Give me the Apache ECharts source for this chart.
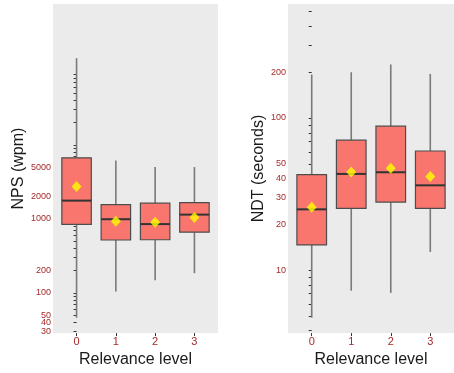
<!DOCTYPE html>
<html>
<head>
<meta charset="utf-8">
<script src="https://cdn.jsdelivr.net/npm/echarts@6/dist/echarts.min.js"></script>
<style>html,body{margin:0;padding:0;background:#fff;}#c{width:454px;height:373px;}</style>
</head>
<body>
<div id="c"></div>
<script>
// ---- data ----
const categories = [0, 1, 2, 3];

const npsMin    = [46, 104, 148, 184];
const npsQ1     = [840, 517, 521, 659];
const npsMedian = [1763, 988, 849, 1140];
const npsQ3     = [6680, 1560, 1627, 1656];
const npsMax    = [148600, 6125, 5010, 5010];
const npsMean   = [2735, 930, 902, 1040];

const ndtMin    = [4.86, 7.32, 7.08, 13.15];
const ndtQ1     = [14.65, 25.5, 28.0, 25.5];
const ndtMedian = [25.1, 42.9, 44.0, 36.1];
const ndtQ3     = [42.5, 71.5, 88.4, 60.7];
const ndtMax    = [193, 200, 225, 195];
const ndtMean   = [25.9, 44.2, 46.7, 41.2];

const npsTicks  = [30,40,50,60,70,80,90,100,200,300,400,500,600,700,800,900,1000,2000,3000,4000,5000,6000,7000,8000,9000,10000,20000,30000,40000,50000,60000,70000,80000,90000];
const npsLabels = [30,40,50,100,200,1000,2000,5000];
const ndtTicks  = [4,5,6,7,8,9,10,20,30,40,50,60,70,80,90,100,200,300,400,500];
const ndtLabels = [10,20,30,40,50,100,200];

const xLabel = 'Relevance level';
const npsTitle = 'NPS (wpm)';
const ndtTitle = 'NDT (seconds)';

// ---- helpers ----
const L = v => Math.log10(v);
function boxData(mn, q1, md, q3, mx) {
  return categories.map((c, i) => [c, L(mn[i]), L(q1[i]), L(md[i]), L(q3[i]), L(mx[i])]);
}
function meanData(m) { return categories.map((c, i) => [c, L(m[i])]); }

const FONT = 'Liberation Sans, Helvetica, Arial, sans-serif';
const LABEL_COLOR = '#A52A2A';

function renderBox(params, api) {
  const x = api.value(0);
  const pMin = api.coord([x, api.value(1)]);
  const pQ1 = api.coord([x, api.value(2)]);
  const pMd = api.coord([x, api.value(3)]);
  const pQ3 = api.coord([x, api.value(4)]);
  const pMax = api.coord([x, api.value(5)]);
  const w = api.size([0.75, 0])[0];
  const cx = pQ1[0];
  return {
    type: 'group',
    children: [
      { type: 'line', shape: { x1: cx, y1: pQ3[1], x2: cx, y2: pMax[1] },
        style: { stroke: '#7a7a7a', lineWidth: 1.6 } },
      { type: 'line', shape: { x1: cx, y1: pQ1[1], x2: cx, y2: pMin[1] },
        style: { stroke: '#7a7a7a', lineWidth: 1.6 } },
      { type: 'rect', shape: { x: cx - w / 2, y: pQ3[1], width: w, height: pQ1[1] - pQ3[1] },
        style: { fill: '#F8766D', stroke: '#4d4d4d', lineWidth: 1.2 } },
      { type: 'line', shape: { x1: cx - w / 2, y1: pMd[1], x2: cx + w / 2, y2: pMd[1] },
        style: { stroke: '#333333', lineWidth: 2 } }
    ]
  };
}

function xAxisDef(gridIndex) {
  return {
    type: 'value', gridIndex, min: -0.6, max: 3.6,
    axisLine: { show: false },
    splitLine: { show: false },
    axisTick: { show: true, length: 3, customValues: categories, lineStyle: { color: '#333', width: 1 } },
    axisLabel: { customValues: categories, color: LABEL_COLOR, fontSize: 11, margin: 3, fontFamily: FONT },
    name: xLabel, nameLocation: 'middle', nameGap: 10,
    nameTextStyle: { fontSize: 16, color: '#1a1a1a', fontFamily: FONT }
  };
}
function yAxisDef(gridIndex, mn, mx, ticks, labels, title, gap) {
  return {
    type: 'value', gridIndex, min: L(mn), max: L(mx),
    axisLine: { show: false },
    splitLine: { show: false },
    axisTick: { show: true, length: 3, customValues: ticks.map(L), lineStyle: { color: '#333', width: 1 } },
    axisLabel: {
      customValues: labels.map(L), color: LABEL_COLOR, fontSize: 9, margin: 2, fontFamily: FONT,
      formatter: v => String(Math.round(Math.pow(10, v)))
    },
    name: title, nameLocation: 'middle', nameGap: gap,
    nameTextStyle: { fontSize: 16, color: '#1a1a1a', fontFamily: FONT }
  };
}

const chart = echarts.init(document.getElementById('c'), null, { renderer: 'canvas' });
chart.setOption({
  animation: false,
  backgroundColor: '#ffffff',
  textStyle: { fontFamily: FONT },
  grid: [
    { left: 53, right: 236, top: 4, bottom: 33, show: true, backgroundColor: '#EBEBEB', borderWidth: 0 },
    { left: 288, right: 0, top: 4, bottom: 33, show: true, backgroundColor: '#EBEBEB', borderWidth: 0 }
  ],
  xAxis: [xAxisDef(0), xAxisDef(1)],
  yAxis: [
    yAxisDef(0, 28.5, 803000, npsTicks, npsLabels, npsTitle, 20),
    yAxisDef(1, 3.855, 561.7, ndtTicks, ndtLabels, ndtTitle, 16)
  ],
  series: [
    { type: 'custom', xAxisIndex: 0, yAxisIndex: 0, renderItem: renderBox,
      data: boxData(npsMin, npsQ1, npsMedian, npsQ3, npsMax), encode: { x: 0, y: [1, 2, 3, 4, 5] } },
    { type: 'scatter', xAxisIndex: 0, yAxisIndex: 0, symbol: 'diamond', symbolSize: [10, 11],
      itemStyle: { color: '#FFFF00' }, data: meanData(npsMean), z: 5 },
    { type: 'custom', xAxisIndex: 1, yAxisIndex: 1, renderItem: renderBox,
      data: boxData(ndtMin, ndtQ1, ndtMedian, ndtQ3, ndtMax), encode: { x: 0, y: [1, 2, 3, 4, 5] } },
    { type: 'scatter', xAxisIndex: 1, yAxisIndex: 1, symbol: 'diamond', symbolSize: [10, 11],
      itemStyle: { color: '#FFFF00' }, data: meanData(ndtMean), z: 5 }
  ]
});
</script>
</body>
</html>
